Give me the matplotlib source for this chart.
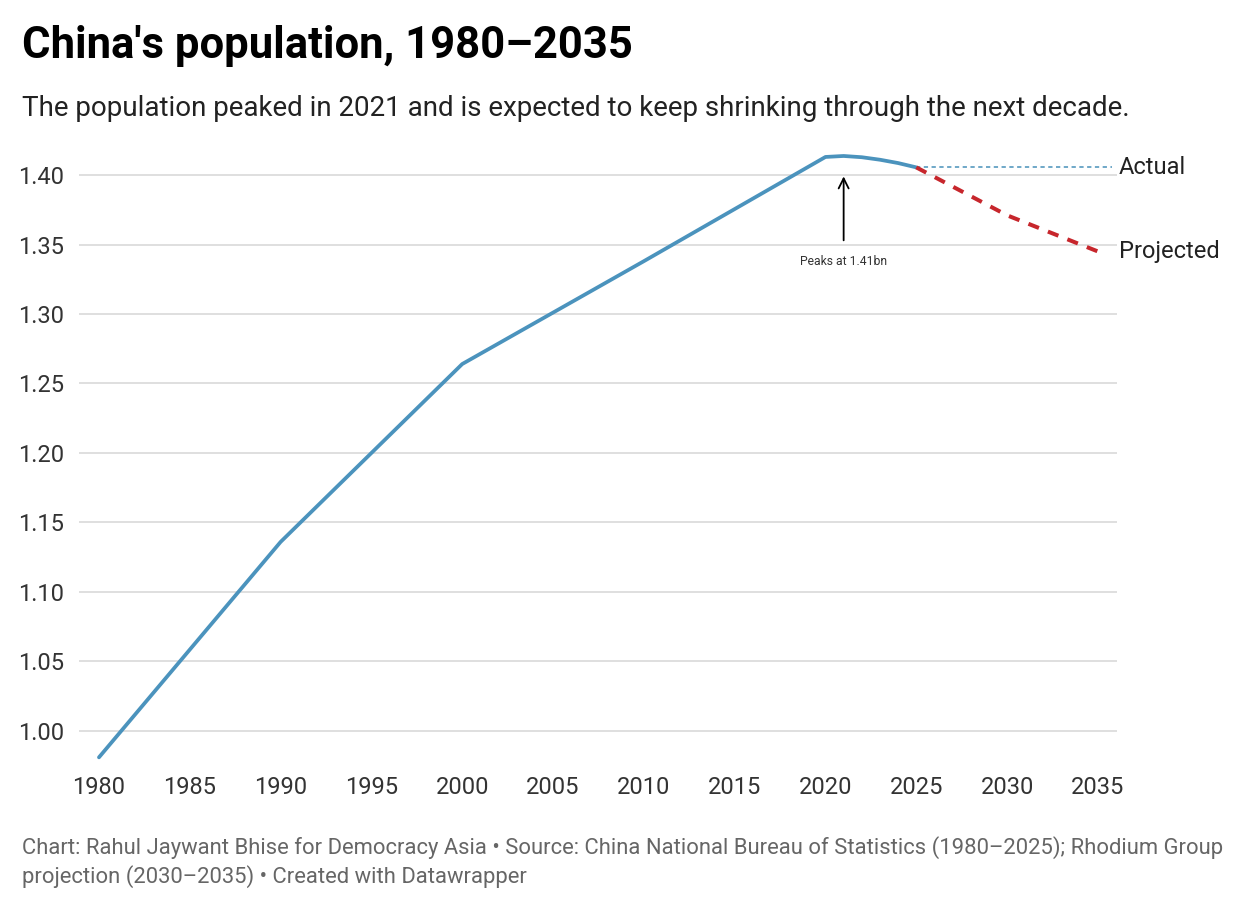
import matplotlib
matplotlib.use('Agg')
from matplotlib import pyplot as plt
from matplotlib import transforms

# population in billions
actual_years = [1980, 1990, 2000, 2010, 2020, 2021, 2022, 2023, 2024, 2025]
actual_pop = [0.981, 1.136, 1.264, 1.338, 1.413, 1.4137, 1.4128, 1.411, 1.4086, 1.4055]
proj_years = [2025, 2030, 2035]
proj_pop = [1.4055, 1.371, 1.345]

x_ticks = list(range(1980, 2036, 5))
y_ticks = [1.00, 1.05, 1.10, 1.15, 1.20, 1.25, 1.30, 1.35, 1.40]

plt.rcParams['font.family'] = ['Roboto', 'DejaVu Sans']

fig = plt.figure(figsize=(12.4, 9.08), dpi=100)
ax = fig.add_axes([0.0637, 0.1575, 0.9008 - 0.0637, 0.8348 - 0.1575])

blue = '#4b93bd'
red = '#c7262c'

ax.plot(actual_years, actual_pop, color=blue, lw=2.7, solid_capstyle='round', zorder=3)
ax.plot(proj_years, proj_pop, color=red, lw=2.9, ls=(0, (2.8, 2.4)), zorder=3)

ax.set_xlim(1978.9, 2036.05)
ax.set_ylim(0.9755, 1.418)
# dotted leader from the last actual value to the "Actual" label
ax.hlines(actual_pop[-1], actual_years[-1], 2035.8, color='#6fa8c8', lw=1.4,
          linestyles=(0, (2.2, 1.8)), zorder=2)

ax.set_xticks(x_ticks)
ax.set_yticks(y_ticks)
ax.set_yticklabels([f'{v:.2f}' for v in y_ticks])
ax.tick_params(axis='both', length=0, labelsize=17, colors='#333333')
ax.tick_params(axis='y', pad=11)
ax.tick_params(axis='x', pad=8)
ax.grid(axis='y', color='#d9d9d9', lw=1.2)
ax.set_axisbelow(True)
for s in ax.spines.values():
    s.set_visible(False)

trans = transforms.blended_transform_factory(ax.transAxes, ax.transData)
ax.text(1.0015, actual_pop[-1], 'Actual', transform=trans, fontsize=17, color='#222222',
        va='center', ha='left')
ax.text(1.0015, proj_pop[-1], 'Projected', transform=trans, fontsize=17, color='#222222',
        va='center', ha='left')

ax.annotate('', xy=(2021, 1.401), xytext=(2021, 1.351),
            arrowprops=dict(arrowstyle='->', color='black', lw=1.3, mutation_scale=18))
ax.text(2021, 1.338, 'Peaks at 1.41bn', fontsize=8.7, color='#333333', ha='center', va='center')

fig.text(0.0177, 0.949, "China's population, 1980\u20132035", fontsize=31.4, fontweight='bold',
         color='black', ha='left', va='center')
fig.text(0.0177, 0.881, 'The population peaked in 2021 and is expected to keep shrinking through the next decade.',
         fontsize=20, color='#222222', ha='left', va='center')
fig.text(0.0177, 0.0507,
         'Chart: Rahul Jaywant Bhise for Democracy Asia \u2022 Source: China National Bureau of Statistics (1980\u20132025); Rhodium Group\n'
         'projection (2030\u20132035) \u2022 Created with Datawrapper',
         fontsize=15.8, color='#666666', ha='left', va='center', linespacing=1.3)

fig.savefig('out.png', dpi=100, facecolor='white')
